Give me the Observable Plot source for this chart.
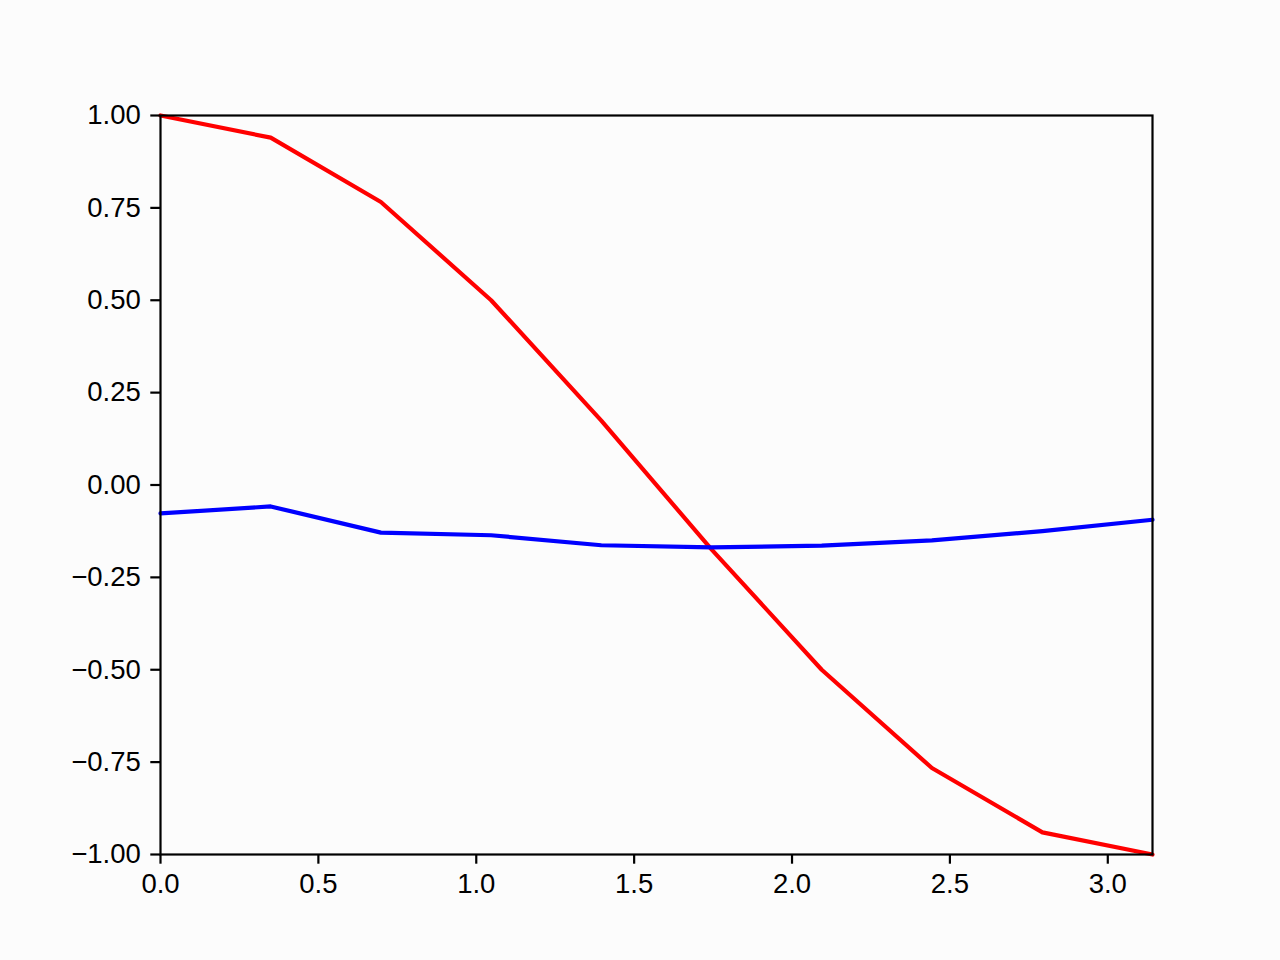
<!DOCTYPE html>
<html><head><meta charset="utf-8">
<style>html,body{margin:0;padding:0;background:#fcfcfc}
#chart svg text{font-size:27.5px !important;font-family:"Liberation Sans",Arial,sans-serif}</style>
<script src="https://cdn.jsdelivr.net/npm/d3@7"></script>
<script src="https://cdn.jsdelivr.net/npm/@observablehq/plot@0.6"></script>
</head><body><div id="chart"></div>
<script>
const xValues = [0, 0.349, 0.698, 1.047, 1.396, 1.745, 2.094, 2.443, 2.793, 3.1416];
const redSeries = [1.0, 0.940, 0.766, 0.500, 0.174, -0.174, -0.500, -0.766, -0.940, -1.0];
const blueSeries = [-0.077, -0.058, -0.129, -0.136, -0.163, -0.169, -0.164, -0.150, -0.125, -0.094];
const xTicks = [0, 0.5, 1.0, 1.5, 2.0, 2.5, 3.0];
const yTicks = [-1, -0.75, -0.5, -0.25, 0, 0.25, 0.5, 0.75, 1];

const redData = xValues.map((x, i) => ({x, y: redSeries[i]}));
const blueData = xValues.map((x, i) => ({x, y: blueSeries[i]}));

const chart = Plot.plot({
  width: 1280, height: 960,
  marginLeft: 160, marginRight: 128, marginTop: 115, marginBottom: 106,
  style: {background: "#fcfcfc", fontFamily: "Liberation Sans, Arial, sans-serif", fontSize: "27.5px", color: "black"},
  x: {domain: [0, 3.1416]},
  y: {domain: [-1, 1]},
  marks: [
    Plot.line(redData, {x: "x", y: "y", stroke: "red", strokeWidth: 4.2}),
    Plot.line(blueData, {x: "x", y: "y", stroke: "blue", strokeWidth: 4.2}),
    Plot.frame({stroke: "black", strokeWidth: 2.2}),
    Plot.axisX({ticks: xTicks, tickFormat: d3.format(".1f"), tickSize: 9.7, tickPadding: 9, strokeWidth: 2.2, label: null}),
    Plot.axisY({ticks: yTicks, tickFormat: d3.format(".2f"), tickSize: 9.7, tickPadding: 10, strokeWidth: 2.2, label: null})
  ]
});
document.getElementById("chart").appendChild(chart);
</script>
</body></html>
